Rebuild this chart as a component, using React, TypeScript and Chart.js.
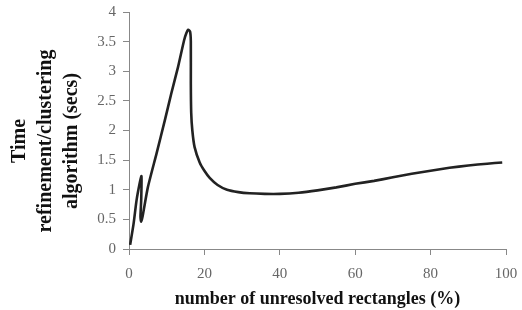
import React, { useEffect, useRef } from "react";
import { Chart, registerables } from "chart.js";

Chart.register(...registerables);

const xValues = [0.3, 1.2, 2.0, 2.8, 3.3, 3.25, 3.05, 3.2, 3.6, 5.0, 7.3, 9.5, 11.2, 13.0, 14.6, 15.2, 15.7, 16.2, 16.4, 16.4, 16.5, 16.8, 17.4, 18.75, 20.0, 21.4, 23.5, 26, 29, 32, 36, 40, 45, 50, 55, 60, 65, 70, 75, 80, 85, 90, 95, 99];
const yValues = [0.07, 0.42, 0.82, 1.1, 1.23, 0.85, 0.55, 0.46, 0.55, 1.04, 1.61, 2.17, 2.62, 3.07, 3.52, 3.64, 3.7, 3.67, 3.5, 2.8, 2.3, 2.0, 1.72, 1.46, 1.32, 1.2, 1.08, 1.0, 0.96, 0.94, 0.93, 0.93, 0.95, 0.99, 1.04, 1.1, 1.15, 1.21, 1.27, 1.32, 1.37, 1.41, 1.44, 1.46];

const yTitleLines = ["Time", "refinement/clustering", "algorithm (secs)"];
const xTitle = "number of unresolved rectangles (%)";

const SERIF = "'Liberation Serif', 'Times New Roman', serif";

const yTitlePlugin = {
  id: "yTitlePlugin",
  afterDraw(chart: any) {
    const ctx = chart.ctx;
    ctx.save();
    ctx.fillStyle = "#111";
    ctx.font = `bold 20px ${SERIF}`;
    ctx.textAlign = "center";
    ctx.textBaseline = "middle";
    const cy = 141;
    yTitleLines.forEach((line, i) => {
      ctx.save();
      ctx.translate(20 + i * 26, cy);
      ctx.rotate(-Math.PI / 2);
      ctx.fillText(line, 0, 0);
      ctx.restore();
    });
    ctx.restore();
  },
};

export default function App() {
  const ref = useRef<HTMLCanvasElement | null>(null);
  useEffect(() => {
    if (!ref.current) return;
    const data = xValues.map((x, i) => ({ x, y: yValues[i] }));
    const chart = new Chart(ref.current, {
      type: "scatter",
      data: {
        datasets: [
          {
            data,
            showLine: true,
            borderColor: "#222",
            borderWidth: 2.6,
            pointRadius: 0,
            tension: 0.2,
            fill: false,
          },
        ],
      },
      options: {
        responsive: false,
        animation: false,
        devicePixelRatio: 1,
        layout: { padding: { top: 12, right: 16, left: 0, bottom: 0 } },
        plugins: { legend: { display: false }, tooltip: { enabled: false } },
        scales: {
          x: {
            type: "linear",
            min: 0,
            max: 100,
            afterFit: (s: any) => {
              s.height = 61;
              s.paddingLeft = 0;
              s.paddingRight = 0;
            },
            ticks: {
              stepSize: 20,
              color: "#666",
              padding: 10,
              font: { family: SERIF, size: 15 },
              callback: (v: any) => String(v),
            },
            grid: { drawOnChartArea: false, drawTicks: true, tickLength: 6, color: "#888" },
            border: { display: true, color: "#888", width: 1 },
            title: {
              display: true,
              text: xTitle,
              color: "#111",
              font: { family: SERIF, size: 18, weight: "bold" },
              padding: { top: 0, bottom: 0 },
            },
          },
          y: {
            type: "linear",
            min: 0,
            max: 4,
            afterFit: (s: any) => {
              s.width = 129;
              s.paddingTop = 0;
              s.paddingBottom = 0;
            },
            ticks: {
              stepSize: 0.5,
              color: "#666",
              padding: 7,
              font: { family: SERIF, size: 15 },
              callback: (v: any) => String(v),
            },
            grid: { drawOnChartArea: false, drawTicks: true, tickLength: 6, color: "#888" },
            border: { display: true, color: "#888", width: 1 },
          },
        },
      },
      plugins: [yTitlePlugin],
    });
    return () => chart.destroy();
  }, []);
  return (
    <div style={{ position: "fixed", left: 0, top: 0, width: 522, height: 310, background: "#fff" }}>
      <canvas ref={ref} width={522} height={310} />
    </div>
  );
}
